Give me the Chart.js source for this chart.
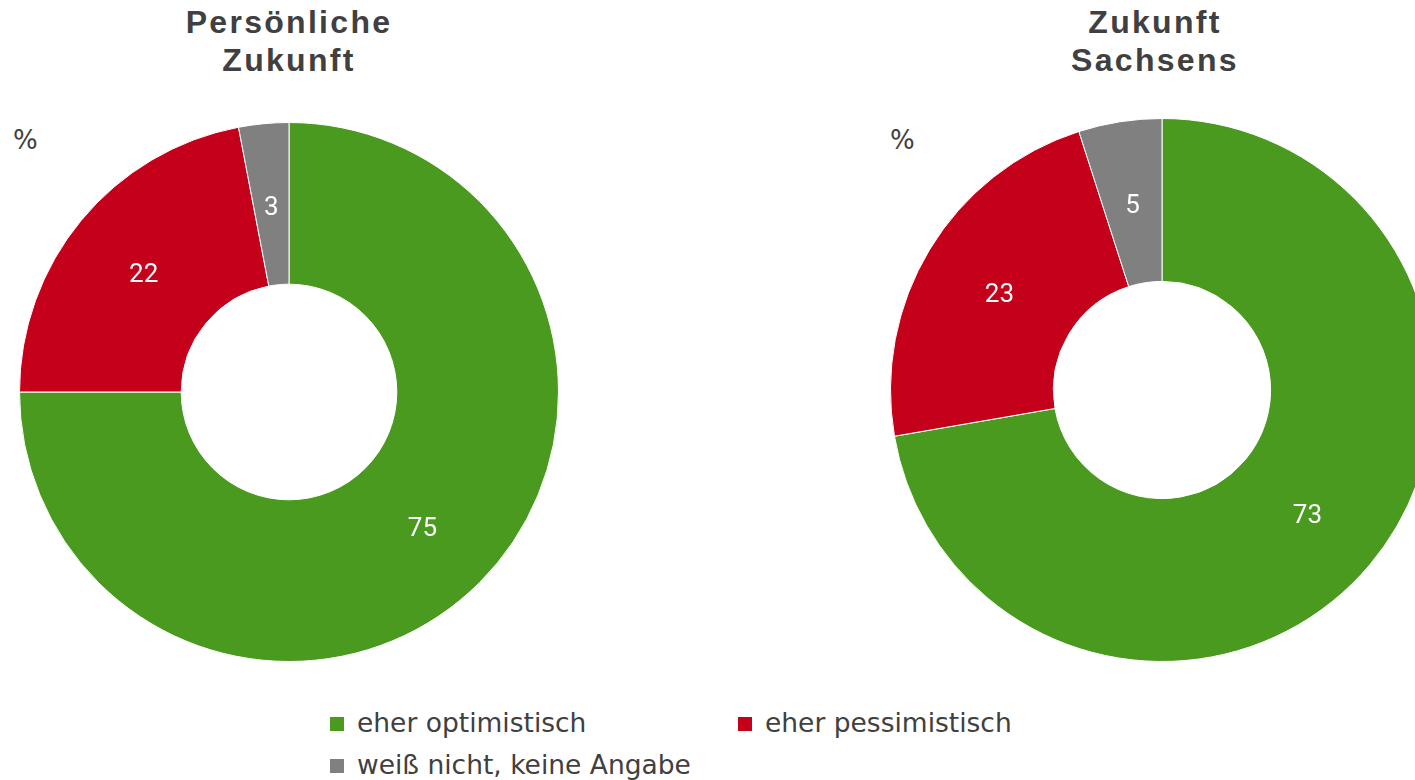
<!DOCTYPE html>
<html lang="de">
<head>
<meta charset="utf-8">
<title>Zukunft</title>
<script src="https://cdn.jsdelivr.net/npm/chart.js@4.4.1/dist/chart.umd.min.js"></script>
<style>
  html, body { margin: 0; padding: 0; background: #fff; width: 1415px; height: 780px; overflow: hidden; position: relative; }
  .title { position: absolute; width: 400px; text-align: center; font-family: "Liberation Sans", Arial, sans-serif; font-weight: bold; font-size: 32px; line-height: 38px; letter-spacing: 2.3px; color: #404040; }
  .pct { position: absolute; font-family: "DejaVu Sans", Verdana, sans-serif; font-size: 26px; color: #404040; }
  .box { position: absolute; }
  #legend { position: absolute; left: 330px; top: 707px; width: 820px; font-family: "DejaVu Sans", Verdana, sans-serif; font-size: 26.5px; color: #404040; }
  #legend .item { position: absolute; white-space: nowrap; }
  #legend .sq { display: inline-block; width: 14px; height: 14px; margin-right: 13px; vertical-align: 1px; }
</style>
</head>
<body>
<div class="title" style="left:89px; top:3px;">Persönliche<br>Zukunft</div>
<div class="title" style="left:955px; top:3px;">Zukunft<br>Sachsens</div>
<div class="pct" style="left:13px; top:125px;">%</div>
<div class="pct" style="left:890px; top:125px;">%</div>
<div class="box" style="left:19px; top:122px; width:540px; height:540px;"><canvas id="chart-persoenlich"></canvas></div>
<div class="box" style="left:890px; top:118px; width:544px; height:544px;"><canvas id="chart-sachsen"></canvas></div>
<div id="legend"></div>

<script>
// Kategorien und Werte (Prozent)
var categories = ['eher optimistisch', 'eher pessimistisch', 'weiß nicht, keine Angabe'];
var persoenlichValues = [75, 22, 3];
var sachsenValues = [73, 23, 5];
var colors = ['#4a9a20', '#c4001a', '#808080'];

// Zahlen in die Segmente schreiben
var sliceLabels = {
  id: 'sliceLabels',
  afterDatasetsDraw: function(chart) {
    var ctx = chart.ctx;
    var meta = chart.getDatasetMeta(0);
    var values = chart.data.datasets[0].data;
    ctx.save();
    ctx.fillStyle = '#ffffff';
    ctx.font = '26px Roboto, Arial, sans-serif';
    ctx.textAlign = 'center';
    ctx.textBaseline = 'middle';
    meta.data.forEach(function(arc, i) {
      var p = arc.getCenterPoint();
      ctx.fillText(String(values[i]), p.x, p.y + 4);
    });
    ctx.restore();
  }
};

function makeDonut(id, values) {
  return new Chart(document.getElementById(id), {
    type: 'doughnut',
    data: {
      labels: categories,
      datasets: [{
        data: values,
        backgroundColor: colors,
        borderColor: '#ffffff',
        borderWidth: 1
      }]
    },
    options: {
      responsive: true,
      maintainAspectRatio: false,
      animation: false,
      cutout: '40%',
      layout: { padding: 0 },
      plugins: {
        legend: { display: false },
        tooltip: { enabled: false }
      }
    },
    plugins: [sliceLabels]
  });
}

makeDonut('chart-persoenlich', persoenlichValues);
makeDonut('chart-sachsen', sachsenValues);

// Legende
var legendPos = [[0, 0], [408, 0], [0, 42]];
document.getElementById('legend').innerHTML = categories.map(function(c, i) {
  return '<div class="item" style="left:' + legendPos[i][0] + 'px;top:' + legendPos[i][1] + 'px;">' +
    '<span class="sq" style="background:' + colors[i] + ';"></span>' + c + '</div>';
}).join('');
</script>
</body>
</html>
